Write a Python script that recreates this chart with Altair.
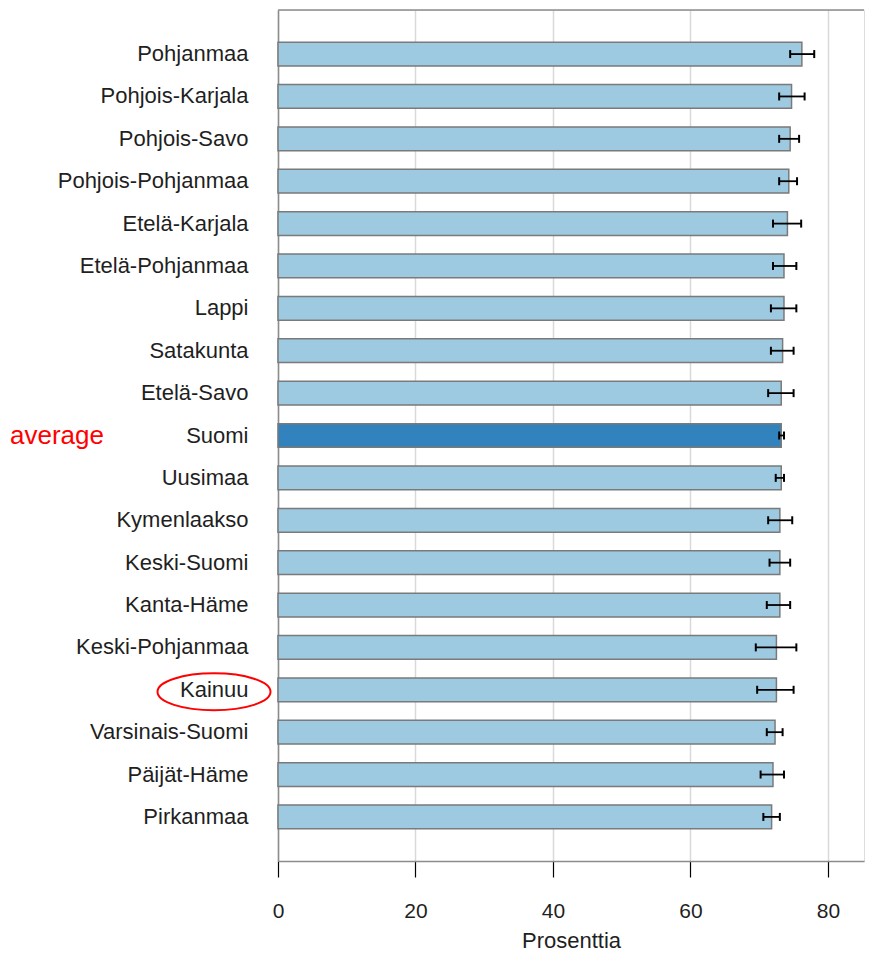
import altair as alt
import pandas as pd

regions = ["Pohjanmaa", "Pohjois-Karjala", "Pohjois-Savo", "Pohjois-Pohjanmaa",
           "Etelä-Karjala", "Etelä-Pohjanmaa", "Lappi", "Satakunta", "Etelä-Savo",
           "Suomi", "Uusimaa", "Kymenlaakso", "Keski-Suomi", "Kanta-Häme",
           "Keski-Pohjanmaa", "Kainuu", "Varsinais-Suomi", "Päijät-Häme", "Pirkanmaa"]
values = [76.2, 74.7, 74.5, 74.3, 74.1, 73.6, 73.6, 73.4, 73.2,
          73.2, 73.2, 73.0, 73.0, 73.0, 72.5, 72.5, 72.3, 72.0, 71.8]
ci_low = [74.5, 72.9, 72.9, 72.9, 72.0, 72.0, 71.7, 71.7, 71.3,
          72.9, 72.4, 71.3, 71.5, 71.1, 69.5, 69.7, 71.1, 70.2, 70.6]
ci_high = [78.0, 76.6, 75.8, 75.5, 76.1, 75.4, 75.4, 75.0, 75.0,
           73.6, 73.6, 74.8, 74.5, 74.5, 75.4, 75.0, 73.4, 73.6, 73.0]
x_ticks = [0, 20, 40, 60, 80]
average_region = "Suomi"
average_label = "average"
circled_region = "Kainuu"

df = pd.DataFrame({"region": regions, "value": values, "lo": ci_low, "hi": ci_high})

FONT = "Liberation Sans"
W = 586
x_scale = alt.Scale(domain=[0, 85.24], nice=False, zero=True)
y_scale = alt.Scale(domain=regions, paddingInner=0.44, paddingOuter=0.76)

y_axis = alt.Axis(title=None, labelFontSize=22, labelPadding=30, ticks=False,
                  domain=True, domainColor="#8c8c8c", domainWidth=1.5,
                  labelLimit=300, labelColor="#1f1f1f", labelFont=FONT, grid=False)
x_axis = alt.Axis(title="Prosenttia", values=x_ticks, tickSize=16, tickColor="#000000",
                  tickWidth=1.2, labelFontSize=21, labelPadding=23, labelColor="#1f1f1f",
                  labelFlush=False,
                  labelFont=FONT, titleFont=FONT, titleFontSize=22, titleFontWeight="normal",
                  titleColor="#1f1f1f", titlePadding=9, grid=True, gridColor="#d9d9d9",
                  gridWidth=1.5, domainColor="#8c8c8c", domainWidth=1.5)

def Y(field="region"):
    return alt.Y(f"{field}:N", scale=y_scale, sort=regions, axis=y_axis)

base = alt.Chart(df)

bars = base.mark_bar(stroke="#7a7a7a", strokeWidth=1.5).encode(
    x=alt.X("value:Q", scale=x_scale, axis=x_axis),
    y=Y(),
    color=alt.condition(f"datum.region === '{average_region}'",
                        alt.value("#3182bd"), alt.value("#9ecae1")),
)

err = base.mark_rule(color="black", strokeWidth=1.8).encode(
    x=alt.X("lo:Q", scale=x_scale, title="Prosenttia"),
    x2="hi:Q",
    y=Y(),
)

caps = base.transform_fold(["lo", "hi"], as_=["end", "pos"]).mark_tick(
    color="black", thickness=2, size=8, opacity=1
).encode(
    x=alt.X("pos:Q", scale=x_scale, title="Prosenttia"),
    y=Y(),
)

top_border = alt.Chart(pd.DataFrame({"k": [0]})).mark_rule(
    color="#8c8c8c", strokeWidth=1.5
).encode(x=alt.value(0), x2=alt.value(W), y=alt.value(0))

ann_text = alt.Chart(pd.DataFrame({"region": [average_region], "label": [average_label]})).mark_text(
    align="left", baseline="middle", fontSize=26, color="#ff0000", font=FONT
).encode(y=Y(), x=alt.value(-268), text="label:N")

ellipse_path = ("M -1 0.035 C -1 -0.146 -0.5523 -0.292 0 -0.292 "
                "C 0.5523 -0.292 1 -0.146 1 0.035 "
                "C 1 0.216 0.5523 0.362 0 0.362 "
                "C -0.5523 0.362 -1 0.216 -1 0.035 Z")
ann_ellipse = alt.Chart(pd.DataFrame({"region": [circled_region]})).mark_point(
    shape=ellipse_path, size=113 * 113, filled=False, stroke="#ff0000",
    strokeWidth=2, opacity=1
).encode(y=Y(), x=alt.value(-64))

chart = alt.layer(bars, err, caps, top_border, ann_text, ann_ellipse).properties(
    width=W, height=851,
    padding={"left": 2, "top": 1, "right": 0, "bottom": 0},
).configure_view(stroke=None).configure(font=FONT)

chart.save("out.html", embed_options={"renderer": "svg", "actions": False})
